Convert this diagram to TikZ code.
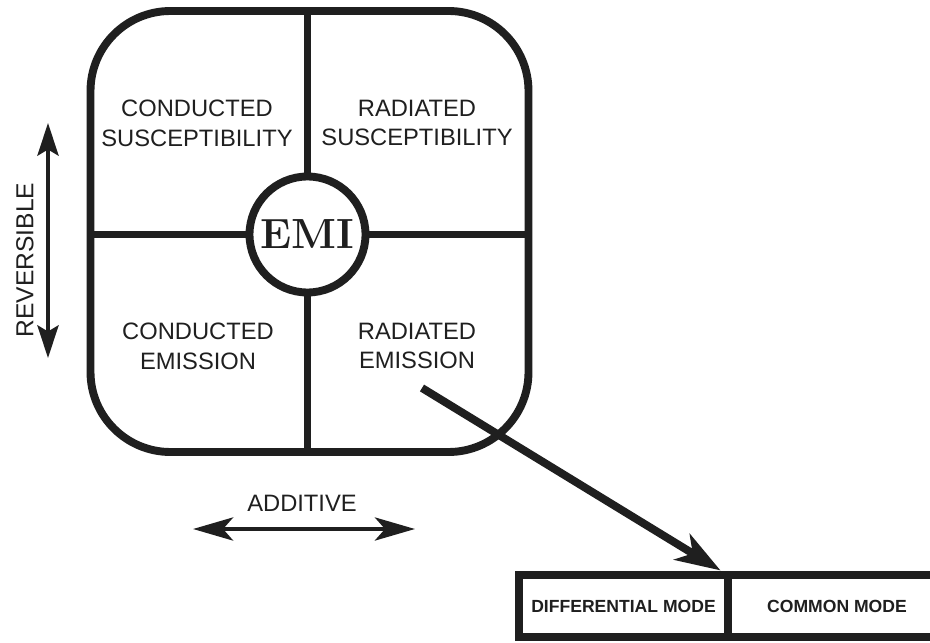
\documentclass[tikz,border=0pt]{standalone}
\usepackage{fontspec}
\setsansfont{Liberation Sans}
\usetikzlibrary{positioning,arrows.meta}

\begin{document}
\begin{tikzpicture}[
    >={Stealth[length=6.5mm,width=4.2mm,inset=1.2mm]},
    wall/.style={draw=black!88,line width=4.5pt},
    lbl/.style={text=black!88,align=center,inner sep=0pt,
      font=\sffamily\fontsize{13.5}{17}\selectfont},
    cell/.style={draw=black!88,line width=4pt,inner sep=0pt,outer sep=0pt,
      minimum height=1.24cm,text=black!88,
      font=\sffamily\bfseries\fontsize{10}{12}\selectfont},
    twoway/.style={draw=black!88,line width=2.8pt,<->}
  ]
  \clip (0,0) rectangle (18.6,12.84);
  % the frame, the centre and the four quadrants
  \node[wall,rounded corners=1.6cm,minimum width=8.76cm,
    minimum height=8.82cm,inner sep=0pt] (frame) at (6.19,8.21) {};
  \node[wall,circle,minimum size=2.32cm,inner sep=0pt,text=black!88,
    font=\bfseries\fontsize{24}{30}\selectfont] (emi) at (6.15,8.15) {EMI};
  \draw[wall] (emi.north) -- (emi |- frame.north);
  \draw[wall] (emi.south) -- (emi |- frame.south);
  \draw[wall] (emi.west) -- (emi -| frame.west);
  \draw[wall] (emi.east) -- (emi -| frame.east);
  \node[lbl] (cs) at (3.94,10.38) {CONDUCTED\\SUSCEPTIBILITY};
  \node[lbl] (rs) at (8.34,10.38) {RADIATED\\SUSCEPTIBILITY};
  \node[lbl] (ce) at (3.96,5.92) {CONDUCTED\\EMISSION};
  \node[lbl] (re) at (8.34,5.92) {RADIATED\\EMISSION};
  % the two axes
  \coordinate (revtop) at (0.96,10.38);
  \coordinate (revbot) at (0.96,5.68);
  \draw[twoway] (revbot) -- (revtop);
  \node[lbl,rotate=90,font=\sffamily\fontsize{14}{17}\selectfont]
    (rev) at (0.5,7.64) {REVERSIBLE};
  \coordinate (addl) at (3.86,2.26);
  \coordinate (addr) at (8.3,2.26);
  \draw[twoway,>={Stealth[length=8mm,width=4.6mm,inset=2mm]}]
    (addl) -- (addr);
  \node[lbl] (add) at (6.04,2.78) {ADDITIVE};
  % the split of radiated emission
  \node[cell,minimum width=4.18cm] (diff) at (12.47,0.72)
    {DIFFERENTIAL MODE};
  \node[cell,minimum width=4.36cm,right=0pt of diff] (comm)
    {COMMON MODE};
  \coordinate (tail) at (8.44,5.08);
  \draw[draw=black!88,line width=4.5pt,->,shorten >=5pt,
    >={Stealth[length=9mm,width=6mm,inset=2.5mm]}]
    (tail) -- (diff.north east);
\end{tikzpicture}
\end{document}
